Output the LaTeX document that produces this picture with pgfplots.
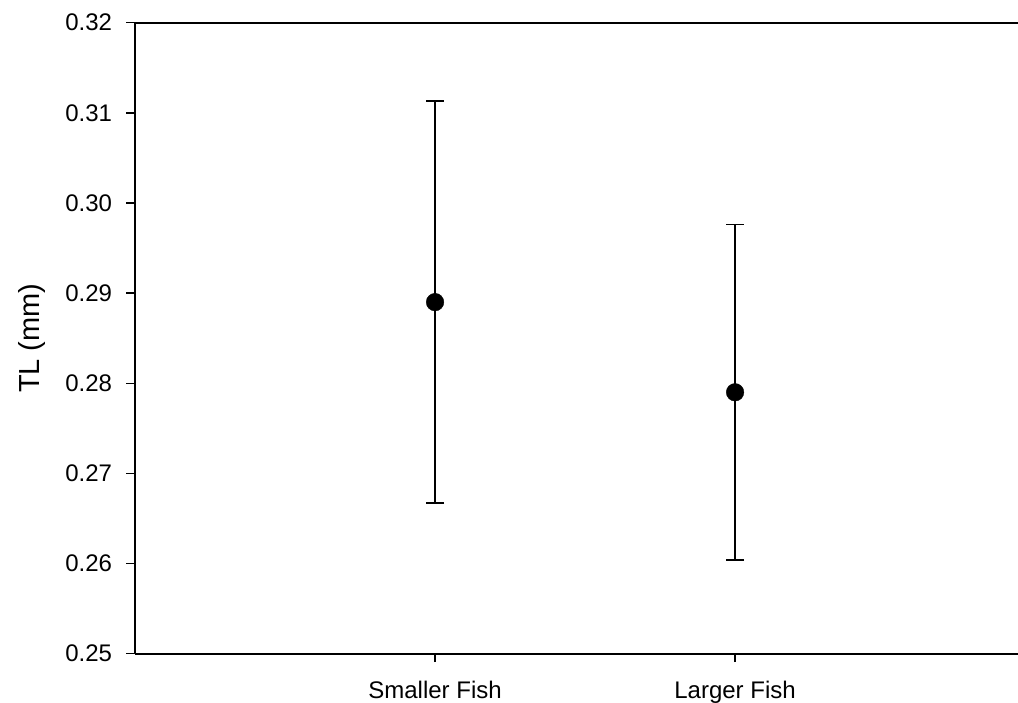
\documentclass[border=0pt]{standalone}
\usepackage{pgfplots}
\pgfplotsset{compat=1.18}
\usepackage{fontspec}
\setmainfont{Liberation Sans}
\begin{document}
\begin{tikzpicture}
\begin{axis}[
  name=ax,
  scale only axis,
  width=883pt, height=631pt,
  xmin=0, xmax=2.943,
  ymin=0.25, ymax=0.32,
  axis lines=left,
  axis line style={-, line width=1.8pt},
  tick align=outside,
  major tick length=8.5pt,
  tick style={black, line width=1.5pt},
  xtick={1,2},
  xticklabels={Smaller Fish, Larger Fish},
  ytick={0.25,0.26,0.27,0.28,0.29,0.30,0.31,0.32},
  yticklabel style={/pgf/number format/fixed, /pgf/number format/fixed zerofill, /pgf/number format/precision=2, xshift=-11pt},
  xticklabel style={yshift=-15pt},
  /pgf/number format/assume math mode=true,
  ticklabel style={font=\fontsize{24}{28}\selectfont},
  ylabel={TL (mm)},
  ylabel style={font=\fontsize{29}{34}\selectfont, yshift=13pt},
  clip=false,
]
\addplot[only marks, mark=*, mark size=8.8pt, black,
  error bars/.cd, y dir=both, y explicit,
  error bar style={line width=1.5pt, black},
  error mark options={rotate=90, mark size=9pt, line width=1.5pt, black}]
  coordinates {
    (1,0.2890) +- (0,0.0223)
    (2,0.2790) +- (0,0.0186)
  };
\draw[line width=1.8pt] (rel axis cs:0,1) -- (rel axis cs:1,1);
\end{axis}
\pgfresetboundingbox
\path ([shift={(-135pt,-49.3pt)}]ax.south west) rectangle ([shift={(0pt,22.7pt)}]ax.north east);
\end{tikzpicture}
\end{document}
